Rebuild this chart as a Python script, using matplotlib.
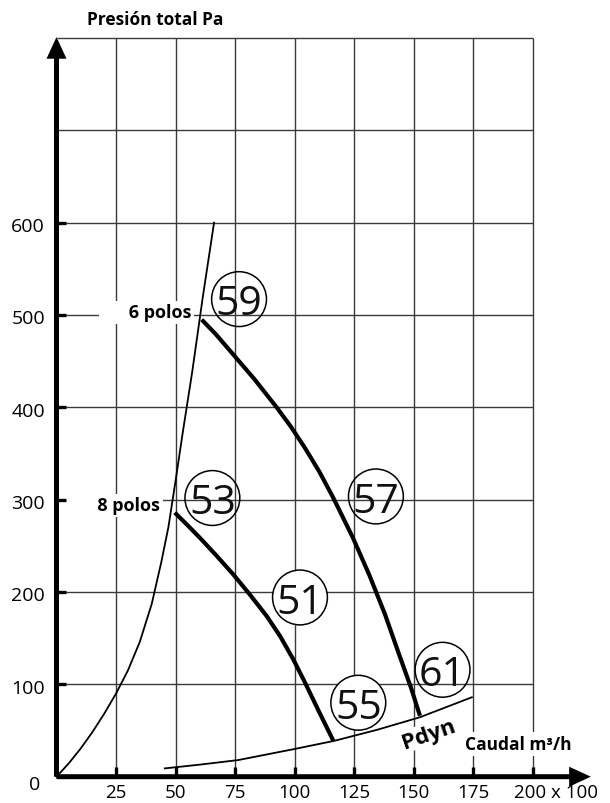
import matplotlib
matplotlib.use("Agg")
import matplotlib.pyplot as plt
from matplotlib.patches import FancyArrowPatch

plt.rcParams['font.family'] = ['Open Sans', 'DejaVu Sans']

# ---------------- data ----------------
x_ticks = [25, 50, 75, 100, 125, 150, 175, 200]
x_tick_labels = ["25", "50", "75", "100", "125", "150", "175", "200 x 100"]
y_ticks = [100, 200, 300, 400, 500, 600]
y_tick_labels = ["100", "200", "300", "400", "500", "600"]
grid_x = [25, 50, 75, 100, 125, 150, 175, 200]
grid_y = [100, 200, 300, 400, 500, 600, 700, 800]

# system (installation) curve
sys_q = [0, 5, 10, 15, 20, 25, 30, 35, 40, 44, 47, 50, 53, 57, 61.5, 66.2]
sys_p = [0, 14, 30, 48, 68, 90, 115, 146, 187, 232, 270, 320, 372, 438, 520, 600]

# dynamic pressure curve
pdyn_q = [45.5, 60, 76.3, 100, 117, 135, 152.7, 174.5]
pdyn_p = [9, 13, 18, 30, 39, 51, 64.4, 86]

# 8 poles fan curve
p8_q = [49.7, 55, 60.5, 67, 74.3, 81, 88.3, 94, 99.5, 104.4, 110, 116.3]
p8_p = [286, 272.5, 258, 240, 219, 198, 174, 152, 127, 102, 72, 39]

# 6 poles fan curve
p6_q = [61, 67, 74, 83, 92.5, 98.5, 104.4, 110.5, 116.3, 124.5, 131.5, 138, 144, 149, 152.7]
p6_p = [495, 479, 458, 431, 400, 379, 356, 330, 302, 259, 218, 176, 132, 96, 66]

# circled numbers
circ_labels = ["59", "53", "57", "51", "55", "61"]
circ_q = [76.7, 65.5, 134.2, 102.3, 126.8, 162.2]
circ_p = [517.2, 301.8, 303.5, 194.1, 80.1, 115.8]
circ_fill = ["none", "none", "none", "white", "white", "none"]

# ---------------- figure ----------------
fig = plt.figure(figsize=(6.10, 8.04), dpi=100)
ax = fig.add_axes([0, 0, 1, 1])
ax.set_xlim(-23.74, 232.56)
ax.set_ylim(-28.48, 842.2)
ax.axis("off")

gcol = "#3a3a3a"
ax.hlines(grid_y, 0, max(grid_x), color=gcol, lw=1.0, zorder=1)
ax.vlines(grid_x, 0, max(grid_y), color=gcol, lw=1.0, zorder=1)

# labels with white boxes (break grid lines)
box = dict(facecolor="white", edgecolor="none", pad=2)
ax.text(56.8, 503, "      6 polos", ha="right", va="center", fontsize=13,
        fontweight="bold", bbox=box, zorder=2)
ax.text(43.4, 294, "       8 polos", ha="right", va="center", fontsize=13,
        fontweight="bold", bbox=box, zorder=2)
ax.text(156.2, 46.3, "Pdyn", ha="center", va="center", fontsize=16,
        fontweight="bold", rotation=19,
        bbox=dict(facecolor="white", edgecolor="none", pad=0.5), zorder=2)
ax.text(171.8, 35.4, "Caudal m³/h", ha="left", va="center", fontsize=12.5,
        fontweight="bold", bbox=box, zorder=2)
ax.text(41.3, 821, "Presión total Pa", ha="center", va="center", fontsize=12.5,
        fontweight="bold", zorder=2)

# curves
ax.plot(sys_q, sys_p, color="k", lw=1.3, zorder=3, solid_joinstyle="round")
ax.plot(pdyn_q, pdyn_p, color="k", lw=1.3, zorder=3, solid_joinstyle="round")
ax.plot(p8_q, p8_p, color="k", lw=3.0, zorder=3, solid_capstyle="butt",
        solid_joinstyle="round")
ax.plot(p6_q, p6_p, color="k", lw=3.0, zorder=3, solid_capstyle="butt",
        solid_joinstyle="round")

# circled numbers
ax.scatter(circ_q, circ_p, s=1560, facecolors=circ_fill, edgecolors="k",
           linewidths=1.1, zorder=4)
for lab, q, p in zip(circ_labels, circ_q, circ_p):
    ax.text(q, p, lab, ha="center", va="center_baseline", fontsize=29.5,
            zorder=5, color="#111111")

# axes with arrows
for start, end in [((0, 0), (0, 801)), ((0, 0), (224.5, 0))]:
    arr = FancyArrowPatch(start, end,
                          arrowstyle="simple,head_length=0.78,head_width=0.72,tail_width=0.18",
                          mutation_scale=20, color="k", lw=0, shrinkA=0, shrinkB=0,
                          zorder=6)
    ax.add_patch(arr)

# tick stubs
ax.vlines(x_ticks, 0, 11, color="k", lw=2.4, zorder=6)
ax.hlines(y_ticks, 0, 4.2, color="k", lw=2.4, zorder=6)

# tick labels
for t, lab in zip(x_ticks, x_tick_labels):
    if lab.startswith("200"):
        ax.annotate(lab, (t, -21.5), xytext=(-13, 0), textcoords="offset points",
                    ha="left", va="baseline", fontsize=13.5)
    else:
        ax.text(t, -21.5, lab, ha="center", va="baseline", fontsize=13.5)
for t, lab in zip(y_ticks, y_tick_labels):
    ax.text(-4.8, t - 9, lab, ha="right", va="baseline", fontsize=14)
ax.text(-6.9, -13.3, "0", ha="right", va="baseline", fontsize=14)

fig.savefig("out.png", dpi=100)
